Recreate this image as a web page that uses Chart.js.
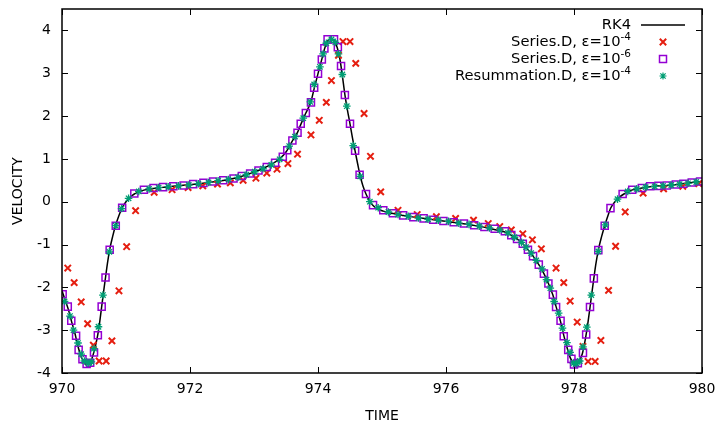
<!DOCTYPE html>
<html><head><meta charset="utf-8">
<script src="https://cdn.jsdelivr.net/npm/chart.js@4.4.1/dist/chart.umd.min.js"></script>
<style>html,body{margin:0;padding:0;background:#fff;}canvas{display:block;}</style>
</head><body>
<canvas id="c" width="718" height="427"></canvas>
<script>
const xTicks = [970, 972, 974, 976, 978, 980];
const yTicks = [-4, -3, -2, -1, 0, 1, 2, 3, 4];
const seriesNames = ['RK4', 'Series.D, ε=10', 'Series.D, ε=10', 'Resummation.D, ε=10'];
const seriesExp = ['', '-4', '-6', '-4'];

const rk4Time = [970.0,970.05,970.1,970.15,970.2,970.25,970.3,970.35,970.39,970.43,970.47,970.5,970.53,970.56,970.59,970.62,970.65,970.68,970.71,970.745,970.79,970.84,970.89,970.94,971.0,971.06,971.13,971.2,971.28,971.43,971.6,971.8,972.0,972.2,972.4,972.6,972.8,973.0,973.15,973.3,973.4,973.5,973.6,973.68,973.73,973.81,973.89,973.94,974.0,974.06,974.1,974.15,974.2,974.25,974.3,974.34,974.38,974.42,974.46,974.5,974.54,974.58,974.62,974.66,974.7,974.75,974.8,974.86,974.93,975.02,975.15,975.33,975.5,975.7,975.9,976.1,976.3,976.5,976.7,976.85,976.95,977.05,977.13,977.2,977.28,977.36,977.45,977.53,977.6,977.67,977.72,977.79,977.84,977.89,977.93,977.97,978.01,978.05,978.09,978.13,978.16,978.19,978.22,978.25,978.28,978.31,978.34,978.38,978.43,978.48,978.53,978.57,978.63,978.7,978.78,978.9,979.06,979.25,979.45,979.65,979.85,980.0];
const rk4Vel = [-2.08,-2.3,-2.52,-2.8,-3.06,-3.38,-3.62,-3.76,-3.8,-3.77,-3.65,-3.5,-3.32,-3.1,-2.8,-2.45,-2.1,-1.77,-1.44,-1.12,-0.82,-0.54,-0.32,-0.14,0.0,0.1,0.18,0.23,0.27,0.31,0.34,0.37,0.4,0.43,0.47,0.52,0.59,0.69,0.78,0.9,1.0,1.16,1.42,1.62,1.8,2.07,2.34,2.64,2.99,3.33,3.56,3.75,3.8,3.76,3.6,3.35,2.95,2.5,2.14,1.82,1.48,1.18,0.88,0.6,0.38,0.18,0.03,-0.09,-0.17,-0.22,-0.27,-0.32,-0.36,-0.4,-0.44,-0.48,-0.52,-0.57,-0.63,-0.68,-0.73,-0.81,-0.89,-0.98,-1.12,-1.27,-1.47,-1.68,-1.91,-2.18,-2.45,-2.8,-3.12,-3.4,-3.6,-3.73,-3.8,-3.78,-3.7,-3.55,-3.35,-3.1,-2.8,-2.47,-2.12,-1.79,-1.47,-1.13,-0.82,-0.56,-0.33,-0.16,-0.02,0.09,0.18,0.27,0.32,0.36,0.38,0.41,0.45,0.47];

const sd4Time = [970.09,970.19,970.3,970.4,970.49,970.58,970.69,970.78,970.89,971.01,971.15,971.44,971.72,971.97,972.2,972.43,972.63,972.83,973.03,973.2,973.36,973.53,973.68,973.89,974.02,974.13,974.21,974.32,974.39,974.5,974.59,974.72,974.82,974.98,975.25,975.55,975.85,976.15,976.43,976.66,976.84,977.02,977.2,977.35,977.49,977.72,977.84,977.94,978.05,978.14,978.22,978.33,978.42,978.54,978.65,978.8,979.08,979.4,979.7,979.95];
const sd4Vel = [-1.55,-1.89,-2.34,-2.85,-3.35,-3.72,-3.72,-3.25,-2.08,-1.05,-0.21,0.22,0.28,0.33,0.37,0.41,0.44,0.5,0.55,0.67,0.76,0.89,1.11,1.56,1.9,2.32,2.83,3.42,3.74,3.74,3.23,2.06,1.06,0.23,-0.2,-0.3,-0.35,-0.39,-0.43,-0.51,-0.58,-0.66,-0.75,-0.89,-1.1,-1.55,-1.89,-2.32,-2.81,-3.38,-3.73,-3.73,-3.24,-2.07,-1.04,-0.24,0.2,0.3,0.36,0.42];

const sd6Time = [970.01,970.09,970.145,970.22,970.26,970.32,970.385,970.44,970.5,970.56,970.62,970.68,970.745,970.84,970.94,971.13,971.28,971.43,971.58,971.74,971.9,972.05,972.21,972.36,972.52,972.68,972.81,972.94,973.07,973.2,973.33,973.45,973.52,973.6,973.68,973.73,973.81,973.89,973.94,974.0,974.06,974.1,974.15,974.25,974.31,974.36,974.42,974.5,974.58,974.65,974.75,974.86,975.02,975.17,975.33,975.49,975.65,975.8,975.96,976.12,976.28,976.44,976.6,976.76,976.92,977.02,977.11,977.2,977.28,977.36,977.45,977.53,977.6,977.67,977.72,977.79,977.84,977.91,977.96,978.0,978.06,978.14,978.19,978.25,978.31,978.38,978.48,978.57,978.76,978.91,979.06,979.19,979.32,979.45,979.59,979.71,979.84,979.97];
const sd6Vel = [-2.16,-2.45,-2.78,-3.13,-3.46,-3.68,-3.79,-3.76,-3.52,-3.12,-2.45,-1.77,-1.12,-0.56,-0.14,0.19,0.28,0.32,0.34,0.36,0.38,0.41,0.44,0.47,0.5,0.54,0.6,0.66,0.73,0.81,0.91,1.05,1.2,1.43,1.61,1.82,2.07,2.32,2.66,2.99,3.32,3.58,3.79,3.79,3.61,3.17,2.49,1.82,1.19,0.63,0.18,-0.08,-0.2,-0.27,-0.32,-0.36,-0.39,-0.42,-0.45,-0.48,-0.51,-0.55,-0.59,-0.63,-0.69,-0.78,-0.87,-0.98,-1.12,-1.27,-1.47,-1.68,-1.91,-2.17,-2.46,-2.78,-3.14,-3.46,-3.67,-3.8,-3.77,-3.53,-3.1,-2.46,-1.79,-1.13,-0.56,-0.15,0.18,0.28,0.32,0.36,0.37,0.38,0.4,0.42,0.45,0.47];

const rs4Time = [970.04,970.125,970.18,970.25,970.3,970.35,970.41,970.46,970.5,970.57,970.64,970.74,970.84,970.93,971.04,971.2,971.36,971.51,971.66,971.82,971.98,972.13,972.29,972.44,972.6,972.75,972.88,973.01,973.14,973.27,973.4,973.55,973.64,973.77,973.88,973.94,974.03,974.08,974.13,974.21,974.27,974.32,974.38,974.45,974.55,974.66,974.81,974.94,975.1,975.25,975.41,975.57,975.72,975.88,976.04,976.2,976.36,976.52,976.68,976.84,976.97,977.07,977.18,977.25,977.33,977.41,977.5,977.57,977.63,977.69,977.76,977.82,977.89,977.94,977.99,978.04,978.09,978.14,978.2,978.27,978.38,978.49,978.68,978.84,978.98,979.12,979.26,979.39,979.52,979.65,979.78,979.91];
const rs4Vel = [-2.33,-2.67,-3.0,-3.3,-3.56,-3.72,-3.77,-3.74,-3.43,-2.92,-2.18,-1.17,-0.56,-0.16,0.08,0.24,0.3,0.33,0.35,0.37,0.39,0.42,0.45,0.49,0.52,0.57,0.63,0.7,0.77,0.86,0.99,1.3,1.52,1.95,2.33,2.74,3.15,3.45,3.7,3.79,3.72,3.45,2.97,2.23,1.31,0.59,0.0,-0.14,-0.24,-0.3,-0.34,-0.38,-0.41,-0.43,-0.46,-0.5,-0.53,-0.57,-0.61,-0.66,-0.73,-0.83,-0.95,-1.06,-1.2,-1.37,-1.57,-1.82,-2.02,-2.33,-2.6,-2.95,-3.29,-3.52,-3.77,-3.78,-3.72,-3.39,-2.93,-2.18,-1.16,-0.54,0.06,0.24,0.3,0.34,0.36,0.37,0.39,0.41,0.43,0.46];

const pts = (t, v) => t.map((x, i) => ({ x: x, y: v[i] }));
const FONT = '"DejaVu Sans", sans-serif';
const colors = ['#000000', '#e51e10', '#9400d3', '#009e73'];

function drawSymbol(ctx, kind, x, y, color) {
  ctx.save();
  ctx.strokeStyle = color;
  ctx.beginPath();
  if (kind === 'cross') {
    ctx.lineWidth = 2; const r = 3.2;
    ctx.moveTo(x - r, y - r); ctx.lineTo(x + r, y + r);
    ctx.moveTo(x - r, y + r); ctx.lineTo(x + r, y - r);
  } else if (kind === 'square') {
    ctx.lineWidth = 1.5; const r = 3.5;
    ctx.rect(x - r, y - r, 2 * r, 2 * r);
  } else if (kind === 'star') {
    ctx.lineWidth = 1.2; const r = 3.5, d = r * 0.75;
    ctx.moveTo(x - r, y); ctx.lineTo(x + r, y);
    ctx.moveTo(x, y - r); ctx.lineTo(x, y + r);
    ctx.moveTo(x - d, y - d); ctx.lineTo(x + d, y + d);
    ctx.moveTo(x - d, y + d); ctx.lineTo(x + d, y - d);
  } else {
    ctx.lineWidth = 1.5;
    ctx.moveTo(x - 22, y); ctx.lineTo(x + 22, y);
  }
  ctx.stroke();
  ctx.restore();
}

const framePlugin = {
  id: 'frame',
  afterDatasetsDraw(chart) {
    const { ctx, chartArea: a, scales: { x, y } } = chart;
    ctx.save();
    ctx.strokeStyle = '#000';
    ctx.lineWidth = 1;
    ctx.beginPath();
    for (const v of xTicks) {
      const px = Math.round(x.getPixelForValue(v)) + 0.5;
      ctx.moveTo(px, a.bottom); ctx.lineTo(px, a.bottom - 6);
      ctx.moveTo(px, a.top); ctx.lineTo(px, a.top + 6);
    }
    for (const v of yTicks) {
      const py = Math.round(y.getPixelForValue(v)) + 0.5;
      ctx.moveTo(a.left, py); ctx.lineTo(a.left + 6, py);
      ctx.moveTo(a.right, py); ctx.lineTo(a.right - 6, py);
    }
    ctx.stroke();
    ctx.lineWidth = 1.5;
    ctx.strokeRect(a.left, a.top, a.right - a.left, a.bottom - a.top);
    // key
    const kinds = ['line', 'cross', 'square', 'star'];
    const textRight = 631, symX = 663, y0 = 25, dy = 17;
    ctx.textBaseline = 'middle';
    ctx.textAlign = 'right';
    ctx.fillStyle = '#000';
    seriesNames.forEach((name, i) => {
      const yy = y0 + i * dy;
      let right = textRight;
      if (seriesExp[i]) {
        ctx.font = '10.5px ' + FONT;
        ctx.fillText(seriesExp[i], right, yy - 5);
        right -= ctx.measureText(seriesExp[i]).width;
      }
      ctx.font = '14.7px ' + FONT;
      ctx.fillText(name, right, yy);
      drawSymbol(ctx, kinds[i], symX, yy, colors[i]);
    });
    ctx.restore();
  }
};

function zeroPad(s) { s.paddingTop = 0; s.paddingBottom = 0; s.paddingLeft = 0; s.paddingRight = 0; }

new Chart(document.getElementById('c'), {
  type: 'scatter',
  data: {
    datasets: [
      { label: 'RK4', data: pts(rk4Time, rk4Vel), showLine: true, borderColor: colors[0], borderWidth: 1.5, pointRadius: 0, cubicInterpolationMode: 'monotone', order: 3 },
      { label: 'Series.D, ε=10^-4', data: pts(sd4Time, sd4Vel), pointStyle: 'crossRot', pointRadius: 4.5, borderColor: colors[1], backgroundColor: colors[1], pointBorderWidth: 2, borderWidth: 2, order: 2 },
      { label: 'Series.D, ε=10^-6', data: pts(sd6Time, sd6Vel), pointStyle: 'rect', pointRadius: 5, borderColor: colors[2], backgroundColor: 'rgba(0,0,0,0)', pointBorderWidth: 1.5, borderWidth: 1.5, order: 1 },
      { label: 'Resummation.D, ε=10^-4', data: pts(rs4Time, rs4Vel), pointStyle: 'star', pointRadius: 3.8, borderColor: colors[3], backgroundColor: colors[3], pointBorderWidth: 1.3, borderWidth: 1.3, order: 0 }
    ]
  },
  options: {
    responsive: false,
    animation: false,
    events: [],
    layout: { padding: { left: 0, right: 16, top: 9, bottom: 0 } },
    plugins: { legend: { display: false }, tooltip: { enabled: false } },
    scales: {
      x: {
        type: 'linear', min: 970, max: 980,
        afterBuildTicks: s => { s.ticks = xTicks.map(v => ({ value: v })); },
        afterFit: s => { s.height = 54; zeroPad(s); },
        ticks: { color: '#000', font: { family: FONT, size: 14 }, padding: 8, maxRotation: 0, callback: v => String(v) },
        grid: { display: false, drawTicks: false },
        border: { display: false },
        title: { display: true, text: 'TIME', color: '#000', font: { family: FONT, size: 14 }, padding: { top: 0, bottom: 2 } }
      },
      y: {
        type: 'linear', min: -4, max: 4.5,
        afterBuildTicks: s => { s.ticks = yTicks.map(v => ({ value: v })); },
        afterFit: s => { s.width = 62; zeroPad(s); },
        ticks: { color: '#000', font: { family: FONT, size: 14 }, padding: 11, callback: v => String(v) },
        grid: { display: false, drawTicks: false },
        border: { display: false },
        title: { display: true, text: 'VELOCITY', color: '#000', font: { family: FONT, size: 14 }, padding: { top: 10, bottom: 0 } }
      }
    }
  },
  plugins: [framePlugin]
});
</script>
</body></html>
